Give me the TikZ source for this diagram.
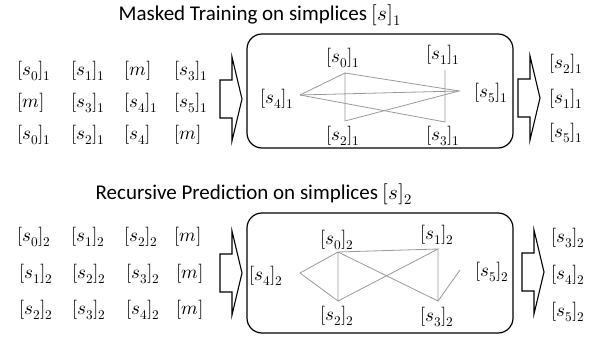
\documentclass[tikz,border=0pt]{standalone}
\usepackage{amsmath}
\usepackage{fontspec}
\usepackage{unicode-math}
\setsansfont{Carlito}

\begin{document}
\begin{tikzpicture}[x=1pt,y=-1pt,
    lbl/.style={inner sep=0pt,font=\fontsize{19}{21}\selectfont},
    ttl/.style={inner sep=0pt,font=\sffamily\fontsize{21}{24}\selectfont},
    link/.style={draw=black!40,line width=0.8pt},
    pane/.style={draw,line width=1.2pt,rounded corners=15pt,inner sep=0pt},
    blk/.style={draw,line width=1.1pt,line join=miter}]
  \newcommand{\blockarrow}[3]{% name, left x, centre y
    \draw[blk] (#2,#3-19) coordinate (#1) -- ++(12,0) -- ++(0,-23) -- (#2+22,#3)
      -- (#2+12,#3+42) -- ++(0,-23) -- (#2,#3+19) -- cycle;}
  \useasboundingbox (0,0) rectangle (605,337);

  % masked training
  \node[ttl] (title1) at (260,15) {Masked Training on simplices $[s]_1$};
  \foreach \x/\t [count=\c] in {17/{[s_0]_1},71/{[s_1]_1},124/{[m]},174/{[s_3]_1}}
    \node[lbl,anchor=west] (a1-\c) at (\x,71) {$\t$};
  \foreach \x/\t [count=\c] in {17/{[m]},71/{[s_3]_1},124/{[s_4]_1},174/{[s_5]_1}}
    \node[lbl,anchor=west] (a2-\c) at (\x,103) {$\t$};
  \foreach \x/\t [count=\c] in {17/{[s_0]_1},71/{[s_2]_1},124/{[s_4]},174/{[m]}}
    \node[lbl,anchor=west] (a3-\c) at (\x,135) {$\t$};
  \blockarrow{inA}{220}{99}
  \node[pane,minimum width=266,minimum height=114] (boxA) at (380,91) {};
  \node[lbl] (s0A) at (343,58) {$[s_0]_1$};
  \node[lbl] (s1A) at (443,55) {$[s_1]_1$};
  \node[lbl] (s2A) at (343,136) {$[s_2]_1$};
  \node[lbl] (s3A) at (443,136) {$[s_3]_1$};
  \node[lbl] (s4A) at (277,99) {$[s_4]_1$};
  \node[lbl] (s5A) at (491,93) {$[s_5]_1$};
  \coordinate (u0) at (345,73);
  \coordinate (u1) at (445,70);
  \coordinate (u2) at (345,121);
  \coordinate (u3) at (445,122);
  \coordinate (u4) at (300,95);
  \coordinate (u5) at (459,91);
  \draw[link] (u4) -- (u0) -- (u2) -- (u5) -- (u0);
  \draw[link] (u4) -- (u5);
  \draw[link] (u4) -- (u3) -- (u1);
  \blockarrow{outA}{518}{98}
  \foreach \y/\t [count=\c] in {64/{[s_2]_1},99/{[s_1]_1},133/{[s_5]_1}}
    \node[lbl,anchor=west] (b\c) at (549,\y) {$\t$};

  % recursive prediction
  \node[ttl] (title2) at (254,194) {Recursive Prediction on simplices $[s]_2$};
  \foreach \x/\t [count=\c] in {17/{[s_0]_2},71/{[s_1]_2},124/{[s_2]_2},174/{[m]}}
    \node[lbl,anchor=west] (c1-\c) at (\x,237) {$\t$};
  \foreach \x/\t [count=\c] in {19/{[s_1]_2},72/{[s_2]_2},126/{[s_3]_2},176/{[m]}}
    \node[lbl,anchor=west] (c2-\c) at (\x,274) {$\t$};
  \foreach \x/\t [count=\c] in {19/{[s_2]_2},72/{[s_3]_2},126/{[s_4]_2},176/{[m]}}
    \node[lbl,anchor=west] (c3-\c) at (\x,310) {$\t$};
  \blockarrow{inB}{220}{273}
  \node[pane,minimum width=266,minimum height=120] (boxB) at (380,273) {};
  \node[lbl] (s0B) at (337,240) {$[s_0]_2$};
  \node[lbl] (s1B) at (437,235) {$[s_1]_2$};
  \node[lbl] (s2B) at (337,316) {$[s_2]_2$};
  \node[lbl] (s3B) at (437,317) {$[s_3]_2$};
  \node[lbl] (s4B) at (266,276) {$[s_4]_2$};
  \node[lbl] (s5B) at (492,272) {$[s_5]_2$};
  \coordinate (v0) at (338,252);
  \coordinate (v1) at (438,249);
  \coordinate (v2) at (338,301);
  \coordinate (v3) at (438,301);
  \coordinate (v4) at (300,273);
  \coordinate (v5) at (460,270);
  \draw[link] (v0) -- (v4) -- (v2) -- (v0) -- (v1) -- (v2);
  \draw[link] (v0) -- (v3) -- (v1);
  \draw[link] (v3) -- (v5);
  \blockarrow{outB}{522}{272}
  \foreach \y/\t [count=\c] in {238/{[s_3]_2},275/{[s_4]_2},312/{[s_5]_2}}
    \node[lbl,anchor=west] (d\c) at (551,\y) {$\t$};
\end{tikzpicture}
\end{document}
